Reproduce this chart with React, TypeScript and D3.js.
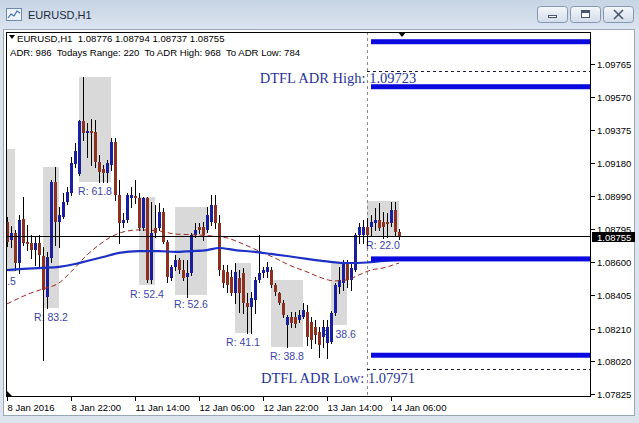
import React from 'react';
import * as d3 from 'd3';

const W = 639, H = 423;
const PL = 6, PR = 591, PT = 32, PB = 397;

// ---- data (EURUSD H1, bar index 0 = 8 Jan 06:00) ----
const opens = [
  1.08836,1.08730,1.08771,1.08595,1.08854,1.08718,1.08712,1.08671,1.08712,1.08636,
  1.08396,1.08624,1.09070,1.08836,1.08865,1.08953,1.09006,1.09176,1.09117,1.09428,
  1.09358,1.09369,1.09364,1.09188,1.09147,1.09123,1.09170,1.09305,1.08994,1.08830,
  1.08848,1.08977,1.08988,1.08977,1.08801,1.08977,1.08496,1.08801,1.08801,1.08895,
  1.08718,1.08508,1.08572,1.08613,1.08554,1.08513,1.08536,1.08760,1.08807,1.08807,
  1.08789,1.08836,1.08936,1.08830,1.08554,1.08543,1.08513,1.08419,1.08508,1.08536,
  1.08361,1.08337,1.08378,1.08496,1.08536,1.08543,1.08554,1.08466,1.08419,1.08361,
  1.08231,1.08278,1.08278,1.08261,1.08278,1.08308,1.08249,1.08220,1.08190,1.08161,
  1.08126,1.08132,1.08302,1.08455,1.08478,1.08601,1.08496,1.08554,1.08760,1.08760,
  1.08807,1.08807,1.08830,1.08848,1.08836,1.08836,1.08830,1.08906,1.08776];
const highs = [
  1.08865,1.08813,1.08789,1.08877,1.08983,1.08819,1.08760,1.08754,1.08760,1.08689,
  1.08660,1.09082,1.09159,1.08924,1.09006,1.09041,1.09217,1.09299,1.09434,1.09686,
  1.09416,1.09440,1.09434,1.09229,1.09170,1.09199,1.09329,1.09329,1.09082,1.08889,
  1.09006,1.09041,1.09082,1.09006,1.08983,1.08983,1.08953,1.08936,1.08948,1.08918,
  1.08730,1.08584,1.08642,1.08624,1.08613,1.08613,1.08771,1.08830,1.08830,1.08836,
  1.08924,1.08994,1.08994,1.08877,1.08584,1.08584,1.08554,1.08595,1.08554,1.08566,
  1.08419,1.08425,1.08513,1.08760,1.08572,1.08601,1.08572,1.08478,1.08425,1.08378,
  1.08290,1.08308,1.08308,1.08320,1.08361,1.08349,1.08278,1.08261,1.08220,1.08261,
  1.08261,1.08314,1.08478,1.08572,1.08613,1.08613,1.08601,1.08771,1.08830,1.08848,
  1.08859,1.08877,1.08918,1.08948,1.08895,1.08889,1.08953,1.08953,1.08794];
const lows = [
  1.08695,1.08689,1.08554,1.08536,1.08701,1.08671,1.08624,1.08584,1.08572,1.08026,
  1.08332,1.08601,1.08701,1.08689,1.08859,1.08942,1.08994,1.09159,1.09111,1.09317,
  1.09217,1.09170,1.09159,1.09070,1.09070,1.09070,1.09141,1.08965,1.08712,1.08807,
  1.08836,1.08924,1.08948,1.08789,1.08789,1.08484,1.08478,1.08748,1.08789,1.08712,
  1.08484,1.08496,1.08554,1.08536,1.08496,1.08396,1.08525,1.08748,1.08771,1.08730,
  1.08777,1.08819,1.08801,1.08525,1.08455,1.08425,1.08408,1.08361,1.08308,1.08302,
  1.08183,1.08183,1.08302,1.08484,1.08513,1.08513,1.08455,1.08408,1.08355,1.08278,
  1.08102,1.08220,1.08220,1.08249,1.08273,1.08114,1.08096,1.08126,1.08044,1.08102,
  1.08038,1.08126,1.08290,1.08419,1.08437,1.08455,1.08437,1.08548,1.08712,1.08712,
  1.08701,1.08760,1.08789,1.08789,1.08742,1.08748,1.08813,1.08760,1.08737];
const closes = [
  1.08718,1.08771,1.08595,1.08848,1.08712,1.08707,1.08671,1.08712,1.08642,1.08437,
  1.08630,1.09070,1.08836,1.08877,1.08953,1.09012,1.09182,1.09252,1.09428,1.09358,
  1.09369,1.09358,1.09188,1.09129,1.09123,1.09182,1.09305,1.08994,1.08830,1.08848,
  1.08994,1.08994,1.08977,1.08801,1.08977,1.08496,1.08771,1.08771,1.08895,1.08718,
  1.08513,1.08572,1.08613,1.08554,1.08508,1.08536,1.08760,1.08789,1.08789,1.08760,
  1.08877,1.08936,1.08830,1.08554,1.08478,1.08466,1.08419,1.08543,1.08419,1.08361,
  1.08337,1.08390,1.08496,1.08536,1.08554,1.08572,1.08466,1.08425,1.08361,1.08290,
  1.08278,1.08243,1.08237,1.08290,1.08320,1.08161,1.08144,1.08173,1.08114,1.08220,
  1.08220,1.08302,1.08466,1.08496,1.08601,1.08496,1.08566,1.08760,1.08807,1.08807,
  1.08760,1.08836,1.08848,1.08801,1.08807,1.08824,1.08906,1.08777,1.08755];

// slow MA (thick blue) and fast MA (dashed brown), sampled points
const blueMaIdx = [0,4,9,13,17,20,24,28,33,38,42,46,50,53,57,62,66,70,75,80,85,90,94,98];
const blueMaVal = [1.08554,1.08560,1.08566,1.08572,1.08589,1.08607,1.08630,1.08654,1.08665,1.08665,
  1.08660,1.08665,1.08671,1.08683,1.08671,1.08660,1.08648,1.08636,1.08619,1.08604,1.08595,1.08598,1.08607,1.08613];
const redMaIdx = [0,6,9,13,16,20,23,26,29,33,38,42,47,51,55,59,63,67,71,75,78,82,85,88,91,94,98];
const redMaVal = [1.08355,1.08419,1.08443,1.08478,1.08543,1.08642,1.08701,1.08748,1.08777,1.08789,
  1.08783,1.08765,1.08760,1.08754,1.08742,1.08707,1.08665,1.08624,1.08578,1.08543,1.08513,1.08490,
  1.08496,1.08525,1.08554,1.08566,1.08595];

// session range boxes
const boxStart = [-6, 9, 18, 33, 42, 57, 66, 81, 90];
const boxEnd = [2, 13, 26, 37, 50, 61, 74, 85, 98];
const boxHigh = [1.09264, 1.09159, 1.09686, 1.08983, 1.08924, 1.08595, 1.08496, 1.08601, 1.08959];
const boxLow = [1.08543, 1.08332, 1.09070, 1.08466, 1.08408, 1.08183, 1.08102, 1.08231, 1.08754];
const boxLabel = ['R: 72.5', 'R: 83.2', 'R: 61.8', 'R: 52.4', 'R: 52.6', 'R: 41.1', 'R: 38.8', 'R: 38.6', 'R: 22.0'];

// levels
const levelPrices = [1.09893, 1.09629, 1.08619, 1.08054];
const levelStart = 91;
const adrHigh = 1.09723;
const adrLow = 1.07971;
const dayStart = 90;

const xTickIdx = [0, 16, 32, 48, 64, 80, 96];
const xTickLabels = ['8 Jan 2016', '8 Jan 22:00', '11 Jan 14:00', '12 Jan 06:00', '12 Jan 22:00', '13 Jan 14:00', '14 Jan 06:00'];
const yTicks = [1.07825, 1.08020, 1.08210, 1.08405, 1.08600, 1.08795, 1.08990, 1.09180, 1.09375, 1.09570, 1.09765];

const headerInfo = 'ADR: 986  Todays Range: 220  To ADR High: 968  To ADR Low: 784';

export default function App() {
  const xs = d3.scaleLinear().domain([0, 98]).range([7, 399]);
  const ys = d3.scaleLinear().domain([1.07809, 1.09950]).range([PB, PT]);
  const font = "'Liberation Sans', Arial, sans-serif";
  const serif = "'Liberation Serif', 'Times New Roman', serif";
  const bull = '#1a1f9e';
  const bear = '#8c3020';
  const last = closes.length - 1;

  const blueLine = d3.line<number>()
    .x((d, i) => xs(blueMaIdx[i]))
    .y(d => ys(d))
    .curve(d3.curveMonotoneX)(blueMaVal) || '';
  const redLine = d3.line<number>()
    .x((d, i) => xs(redMaIdx[i]))
    .y(d => ys(d))
    .curve(d3.curveMonotoneX)(redMaVal) || '';

  const fmt = (v: number) => v.toFixed(5);
  const header1 = `EURUSD,H1  ${fmt(opens[last])} ${fmt(highs[last])} ${fmt(lows[last])} ${fmt(closes[last])}`;
  const curY = Math.round(ys(closes[last])) + 0.5;

  return (
    <svg width={W} height={H} viewBox={`0 0 ${W} ${H}`}
      style={{ position: 'fixed', left: 0, top: 0, display: 'block' }}>
      <defs>
        <linearGradient id="title" x1="0" y1="0" x2="0" y2="1">
          <stop offset="0" stopColor="#c7d4e4" />
          <stop offset="1" stopColor="#dbe4ef" />
        </linearGradient>
        <linearGradient id="btn" x1="0" y1="0" x2="0" y2="1">
          <stop offset="0" stopColor="#f4f7fb" />
          <stop offset="1" stopColor="#d2dce9" />
        </linearGradient>
        <clipPath id="plot">
          <rect x={PL} y={PT} width={PR - PL} height={PB - PT} />
        </clipPath>
      </defs>

      {/* window chrome */}
      <rect x={0} y={0} width={W} height={H} fill="#dce4ee" />
      <rect x={0} y={0} width={W} height={29} fill="url(#title)" />
      <g>
        <rect x={6.5} y={8.5} width={15} height={12} fill="#eef3f9" stroke="#6f8aab" />
        <polyline points="8,18 11,14 14,16 17,11 20,13" fill="none" stroke="#3d6fb0" strokeWidth={1.2} />
      </g>
      <text x={28} y={18.5} fontFamily={font} fontSize={11} fill="#1b2a3c">EURUSD,H1</text>
      {[537, 570, 603].map((bx, k) => (
        <g key={k}>
          <rect x={bx + 0.5} y={6.5} width={30} height={16} rx={3} fill="url(#btn)" stroke="#8497b0" />
          {k === 0 && <rect x={bx + 11.5} y={15.5} width={8} height={2} fill="#fff" stroke="#46566c" />}
          {k === 1 && <rect x={bx + 11.5} y={10.5} width={8} height={7} fill="#fff" stroke="#46566c" strokeWidth={1} />}
          {k === 1 && <rect x={bx + 12} y={11} width={7} height={2} fill="#46566c" />}
          {k === 2 && (
            <g stroke="#46566c" strokeWidth={1.6}>
              <line x1={bx + 11} y1={10} x2={bx + 20} y2={19} />
              <line x1={bx + 20} y1={10} x2={bx + 11} y2={19} />
            </g>
          )}
        </g>
      ))}

      {/* chart client area */}
      <rect x={3.5} y={29.5} width={631} height={386} fill="#ffffff" stroke="#9aa7b6" />

      <g clipPath="url(#plot)">
        {/* range boxes */}
        {boxStart.map((s, k) => (
          <rect key={k} x={xs(s)} y={Math.round(ys(boxHigh[k]))}
            width={xs(boxEnd[k]) - xs(s)}
            height={Math.round(ys(boxLow[k])) - Math.round(ys(boxHigh[k]))}
            fill="#d9d9d9" />
        ))}
        {/* day separator */}
        <line x1={xs(dayStart) + 0.5} x2={xs(dayStart) + 0.5} y1={PT} y2={PB}
          stroke="#8a8a8a" strokeDasharray="3,3" />
        {/* range labels */}
        {boxStart.map((s, k) => (
          <text key={k} x={(xs(s) + xs(boxEnd[k])) / 2} y={Math.round(ys(boxLow[k])) + 9}
            textAnchor="middle" dominantBaseline="central"
            fontFamily={font} fontSize={10.5} fill="#3a44ad">{boxLabel[k]}</text>
        ))}
        {/* candles */}
        {opens.map((o, i) => {
          const c = closes[i];
          const cx = Math.round(xs(i));
          const yh = Math.round(ys(highs[i]));
          const yl = Math.round(ys(lows[i]));
          const yo = Math.round(ys(o));
          const yc = Math.round(ys(c));
          const top = Math.min(yo, yc);
          const hgt = Math.max(1, Math.abs(yo - yc));
          return (
            <g key={i}>
              <rect x={cx} y={yh} width={1} height={Math.max(1, yl - yh + 1)} fill="#000" />
              <rect x={cx - 1} y={top} width={3} height={hgt} fill={c >= o ? bull : bear} />
            </g>
          );
        })}
        {/* moving averages */}
        <path d={redLine} fill="none" stroke="#a0291e" strokeWidth={1} strokeDasharray="5,3" />
        <path d={blueLine} fill="none" stroke="#1c30c6" strokeWidth={2.2} />
        {/* current price line */}
        <line x1={PL} x2={PR} y1={curY} y2={curY} stroke="#000" strokeWidth={1} />
        {/* ADR levels */}
        {levelPrices.map((p, k) => (
          <rect key={k} x={xs(levelStart)} y={ys(p) - 2.5} width={PR - xs(levelStart)} height={5} fill="#0a0ade" />
        ))}
        {[adrHigh, adrLow].map((p, k) => (
          <line key={k} x1={xs(dayStart)} x2={PR} y1={Math.round(ys(p)) + 0.5} y2={Math.round(ys(p)) + 0.5}
            stroke="#1d1d40" strokeDasharray="3,3" />
        ))}
        <text x={338} y={ys(adrHigh) + 7.5} textAnchor="middle" dominantBaseline="central"
          fontFamily={serif} fontSize={14.5} fill="#27349a">{`DTFL ADR High: ${fmt(adrHigh)}`}</text>
        <text x={338} y={ys(adrLow) + 8.5} textAnchor="middle" dominantBaseline="central"
          fontFamily={serif} fontSize={14.5} fill="#27349a">{`DTFL ADR Low: ${fmt(adrLow)}`}</text>
        {/* header text */}
        <path d="M9,35 L15,35 L12,39 Z" fill="#000" />
        <text x={17} y={38} dominantBaseline="central" fontFamily={font} fontSize={9.6} fill="#000"
          style={{ whiteSpace: 'pre' }}>{header1}</text>
        <text x={10} y={52} dominantBaseline="central" fontFamily={font} fontSize={9.6} fill="#000"
          style={{ whiteSpace: 'pre' }}>{headerInfo}</text>
        {/* shift marker & corner marker */}
        <path d={`M${xs(last) - 1},${PT} L${xs(last) + 7},${PT} L${xs(last) + 3},${PT + 5} Z`} fill="#000" />
        <path d={`M${PL + 1},${PB - 6} L${PL + 1},${PB} L${PL + 7},${PB} Z`} fill="#000" />
      </g>

      {/* plot frame */}
      <rect x={PL + 0.5} y={PT + 0.5} width={PR - PL - 1} height={PB - PT - 1} fill="none" stroke="#000" />

      {/* y axis */}
      {yTicks.map((t, k) => {
        const y = Math.round(ys(t)) + 0.5;
        return (
          <g key={k}>
            <line x1={PR} x2={PR + 4} y1={y} y2={y} stroke="#000" />
            <text x={597} y={y} dominantBaseline="central" fontFamily={font} fontSize={9.5} fill="#000">{fmt(t)}</text>
          </g>
        );
      })}
      <rect x={592} y={curY - 4.5} width={43} height={10} fill="#000" />
      <text x={597} y={curY + 0.5} dominantBaseline="central" fontFamily={font} fontSize={9.5} fill="#fff">{fmt(closes[last])}</text>

      {/* x axis */}
      {xTickIdx.map((t, k) => {
        const x = Math.round(xs(t)) + 0.5;
        return (
          <g key={k}>
            <line x1={x} x2={x} y1={PB} y2={PB + 4} stroke="#000" />
            <text x={x} y={407} dominantBaseline="central" fontFamily={font} fontSize={9.5} fill="#000">{xTickLabels[k]}</text>
          </g>
        );
      })}
    </svg>
  );
}
